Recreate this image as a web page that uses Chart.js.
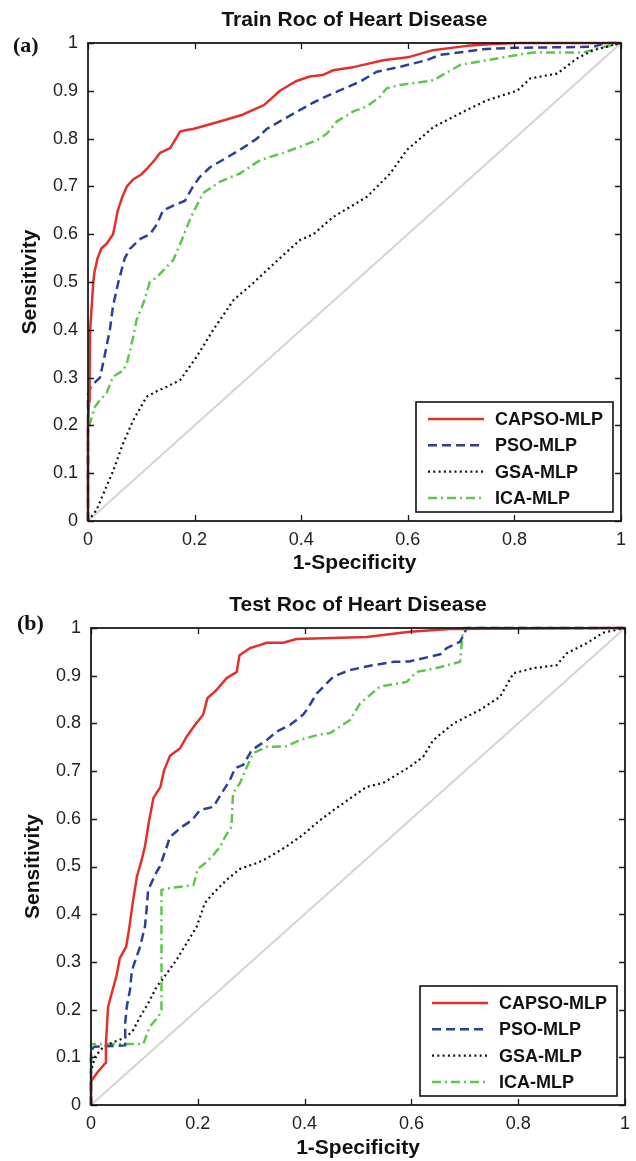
<!DOCTYPE html>
<html><head><meta charset="utf-8">
<script src="https://cdn.jsdelivr.net/npm/chart.js@4/dist/chart.umd.min.js"></script>
<style>
html,body{margin:0;padding:0;background:#fff;width:636px;height:1161px;overflow:hidden;position:relative;}
canvas{position:absolute;}
#c1{left:0;top:0;}
#c2{left:3px;top:585px;}
</style></head><body>
<canvas id="c1" width="636" height="576"></canvas>
<canvas id="c2" width="636" height="576"></canvas>
<script>
// ---------- data ----------
const seriesNames = ['CAPSO-MLP', 'PSO-MLP', 'GSA-MLP', 'ICA-MLP'];
const xTickValues = [0, 0.2, 0.4, 0.6, 0.8, 1];
const xTickLabels = ['0', '0.2', '0.4', '0.6', '0.8', '1'];
const yTickValues = [0, 0.1, 0.2, 0.3, 0.4, 0.5, 0.6, 0.7, 0.8, 0.9, 1];
const yTickLabels = ['0', '0.1', '0.2', '0.3', '0.4', '0.5', '0.6', '0.7', '0.8', '0.9', '1'];
const diagX = [0, 1];
const diagY = [0, 1];

// Train
const capsoTrainX = [0, 0, 0.002, 0.003, 0.004, 0.007, 0.01, 0.012, 0.018, 0.025, 0.035, 0.047, 0.056, 0.065, 0.073, 0.085, 0.1, 0.113, 0.125, 0.135, 0.154, 0.165, 0.173, 0.185, 0.197, 0.229, 0.26, 0.29, 0.31, 0.33, 0.35, 0.36, 0.39, 0.416, 0.44, 0.46, 0.5, 0.554, 0.6, 0.647, 0.711, 0.76, 0.805, 1];
const capsoTrainY = [0, 0.2, 0.25, 0.3, 0.4, 0.45, 0.5, 0.52, 0.55, 0.57, 0.58, 0.6, 0.65, 0.68, 0.7, 0.715, 0.725, 0.74, 0.755, 0.77, 0.78, 0.8, 0.815, 0.818, 0.82, 0.83, 0.84, 0.85, 0.86, 0.87, 0.89, 0.9, 0.92, 0.93, 0.933, 0.943, 0.95, 0.964, 0.97, 0.985, 0.994, 0.998, 1, 1];
const psoTrainX = [0, 0, 0.005, 0.013, 0.0225, 0.032, 0.041, 0.047, 0.057, 0.069, 0.079, 0.098, 0.116, 0.129, 0.141, 0.16, 0.182, 0.197, 0.21, 0.229, 0.26, 0.29, 0.317, 0.335, 0.366, 0.398, 0.422, 0.46, 0.51, 0.542, 0.585, 0.635, 0.66, 0.71, 0.741, 0.8, 0.948, 0.97, 1];
const psoTrainY = [0, 0.266, 0.28, 0.29, 0.3, 0.35, 0.4, 0.45, 0.5, 0.55, 0.57, 0.59, 0.6, 0.62, 0.65, 0.66, 0.67, 0.7, 0.72, 0.74, 0.76, 0.78, 0.8, 0.82, 0.84, 0.86, 0.875, 0.895, 0.919, 0.94, 0.95, 0.964, 0.975, 0.982, 0.987, 0.99, 0.992, 1, 1];
const gsaTrainX = [0, 0.016, 0.03, 0.048, 0.065, 0.085, 0.11, 0.13, 0.148, 0.173, 0.204, 0.235, 0.273, 0.31, 0.336, 0.37, 0.398, 0.423, 0.46, 0.523, 0.567, 0.598, 0.648, 0.711, 0.748, 0.805, 0.83, 0.88, 0.918, 0.948, 1];
const gsaTrainY = [0, 0.023, 0.06, 0.107, 0.16, 0.211, 0.26, 0.272, 0.281, 0.295, 0.344, 0.4, 0.462, 0.498, 0.525, 0.56, 0.588, 0.6, 0.636, 0.678, 0.727, 0.776, 0.824, 0.86, 0.88, 0.9, 0.926, 0.936, 0.968, 0.985, 1];
const icaTrainX = [0, 0, 0.004, 0.013, 0.0225, 0.035, 0.047, 0.066, 0.073, 0.085, 0.091, 0.104, 0.116, 0.129, 0.16, 0.176, 0.191, 0.2, 0.216, 0.248, 0.285, 0.323, 0.366, 0.398, 0.43, 0.448, 0.467, 0.498, 0.523, 0.548, 0.56, 0.585, 0.648, 0.698, 0.748, 0.805, 0.835, 0.929, 0.96, 0.985, 1];
const icaTrainY = [0, 0.184, 0.205, 0.239, 0.253, 0.268, 0.302, 0.315, 0.33, 0.386, 0.42, 0.456, 0.5, 0.51, 0.546, 0.588, 0.63, 0.651, 0.686, 0.71, 0.727, 0.755, 0.77, 0.783, 0.797, 0.81, 0.836, 0.857, 0.867, 0.888, 0.905, 0.912, 0.922, 0.954, 0.964, 0.975, 0.98, 0.98, 0.99, 0.995, 1];

// Test
const capsoTestX = [0, 0, 0.011, 0.027, 0.028, 0.032, 0.048, 0.054, 0.066, 0.072, 0.079, 0.086, 0.095, 0.101, 0.109, 0.117, 0.13, 0.137, 0.148, 0.167, 0.179, 0.195, 0.21, 0.218, 0.235, 0.254, 0.273, 0.278, 0.298, 0.316, 0.329, 0.36, 0.385, 0.516, 0.597, 0.672, 1];
const capsoTestY = [0, 0.049, 0.067, 0.088, 0.13, 0.206, 0.272, 0.308, 0.332, 0.374, 0.43, 0.479, 0.514, 0.542, 0.597, 0.644, 0.667, 0.702, 0.732, 0.748, 0.772, 0.797, 0.818, 0.853, 0.87, 0.895, 0.908, 0.943, 0.958, 0.964, 0.969, 0.969, 0.977, 0.981, 0.992, 0.998, 1];
const psoTestX = [0, 0, 0.006, 0.064, 0.064, 0.067, 0.073, 0.076, 0.079, 0.092, 0.101, 0.104, 0.107, 0.123, 0.129, 0.142, 0.148, 0.17, 0.189, 0.204, 0.229, 0.245, 0.26, 0.27, 0.285, 0.301, 0.329, 0.348, 0.373, 0.397, 0.404, 0.423, 0.454, 0.485, 0.528, 0.566, 0.597, 0.654, 0.666, 0.691, 0.704, 1];
const psoTestY = [0, 0.115, 0.122, 0.125, 0.172, 0.206, 0.241, 0.276, 0.29, 0.332, 0.374, 0.409, 0.451, 0.489, 0.5, 0.542, 0.562, 0.583, 0.597, 0.618, 0.625, 0.654, 0.681, 0.706, 0.713, 0.744, 0.765, 0.783, 0.797, 0.818, 0.828, 0.863, 0.898, 0.912, 0.922, 0.929, 0.93, 0.945, 0.958, 0.971, 1, 1];
const gsaTestX = [0, 0, 0.0075, 0.023, 0.045, 0.067, 0.079, 0.092, 0.107, 0.123, 0.142, 0.16, 0.179, 0.198, 0.213, 0.229, 0.254, 0.279, 0.31, 0.329, 0.366, 0.395, 0.429, 0.454, 0.516, 0.547, 0.597, 0.622, 0.641, 0.679, 0.728, 0.766, 0.791, 0.829, 0.872, 0.891, 0.928, 0.959, 1];
const gsaTestY = [0, 0.07, 0.101, 0.122, 0.133, 0.143, 0.157, 0.185, 0.213, 0.248, 0.276, 0.304, 0.339, 0.374, 0.423, 0.444, 0.472, 0.495, 0.507, 0.517, 0.542, 0.565, 0.597, 0.618, 0.667, 0.675, 0.709, 0.73, 0.765, 0.8, 0.828, 0.856, 0.905, 0.916, 0.922, 0.947, 0.968, 0.99, 1];
const icaTestX = [0, 0, 0.098, 0.11, 0.126, 0.132, 0.132, 0.148, 0.192, 0.2, 0.215, 0.229, 0.242, 0.251, 0.263, 0.266, 0.279, 0.292, 0.304, 0.329, 0.366, 0.391, 0.425, 0.448, 0.485, 0.504, 0.541, 0.591, 0.61, 0.647, 0.691, 0.697, 1];
const icaTestY = [0, 0.128, 0.128, 0.164, 0.185, 0.2, 0.451, 0.455, 0.461, 0.495, 0.508, 0.524, 0.542, 0.562, 0.583, 0.654, 0.675, 0.709, 0.738, 0.751, 0.752, 0.765, 0.776, 0.78, 0.807, 0.842, 0.877, 0.887, 0.908, 0.916, 0.929, 1, 1];

// ---------- styles ----------
const FAMILY = '"Liberation Sans", Arial, Helvetica, sans-serif';
const styles = [
  { color: '#e2302a', width: 2.5, dash: [] },
  { color: '#2b3f9f', width: 2.5, dash: [9, 5] },
  { color: '#111111', width: 2.2, dash: [2, 3.3] },
  { color: '#5cc94a', width: 2.5, dash: [9, 4, 2, 4] }
];

function pts(xs, ys) { return xs.map((x, i) => ({ x: x, y: ys[i] })); }

function makeDatasets(seriesXY) {
  const ds = seriesXY.map((s, i) => ({
    label: seriesNames[i],
    data: pts(s[0], s[1]),
    borderColor: styles[i].color,
    borderWidth: styles[i].width,
    borderDash: styles[i].dash,
    showLine: true, pointRadius: 0, tension: 0, fill: false,
    borderCapStyle: 'butt', borderJoinStyle: 'round',
    clip: 3
  }));
  ds.push({
    label: 'diag', data: pts(diagX, diagY), borderColor: '#d6d6d6', borderWidth: 2.2,
    showLine: true, pointRadius: 0, fill: false, clip: 3, isDiag: true
  });
  return ds;
}

const framePlugin = {
  id: 'frame',
  afterDraw(chart, args, opts) {
    const { ctx, chartArea: a, scales } = chart;
    const x = scales.x, y = scales.y;
    ctx.save();
    // inner ticks
    ctx.strokeStyle = '#1a1a1a';
    ctx.lineWidth = 1.3;
    const L = 6;
    ctx.beginPath();
    xTickValues.forEach(v => {
      const px = Math.round(x.getPixelForValue(v)) + 0.5;
      ctx.moveTo(px, a.bottom); ctx.lineTo(px, a.bottom - L);
      ctx.moveTo(px, a.top); ctx.lineTo(px, a.top + L);
    });
    yTickValues.forEach(v => {
      const py = Math.round(y.getPixelForValue(v)) + 0.5;
      ctx.moveTo(a.left, py); ctx.lineTo(a.left + L, py);
      ctx.moveTo(a.right, py); ctx.lineTo(a.right - L, py);
    });
    ctx.stroke();
    // box
    ctx.lineWidth = 1.8;
    ctx.strokeRect(a.left, a.top, a.right - a.left, a.bottom - a.top);

    // legend
    const bw = 197, bh = 110;
    const bx = a.right - 8 - bw, by = a.bottom - 9 - bh;
    ctx.fillStyle = '#fff';
    ctx.fillRect(bx, by, bw, bh);
    ctx.lineWidth = 1.6;
    ctx.strokeStyle = '#111';
    ctx.strokeRect(bx, by, bw, bh);
    ctx.font = 'bold 18px ' + FAMILY;
    ctx.textBaseline = 'middle';
    ctx.textAlign = 'left';
    chart.data.datasets.forEach((d, i) => {
      if (d.isDiag) return;
      const ry = by + 17 + i * 26.3;
      ctx.beginPath();
      ctx.strokeStyle = d.borderColor;
      ctx.lineWidth = d.borderWidth;
      ctx.setLineDash(d.borderDash || []);
      ctx.moveTo(bx + 12, ry); ctx.lineTo(bx + 68, ry);
      ctx.stroke();
      ctx.setLineDash([]);
      ctx.fillStyle = '#111';
      ctx.fillText(d.label, bx + 79, ry + 1);
    });

    // panel label
    ctx.font = 'bold 22px "Liberation Serif", "Times New Roman", serif';
    ctx.fillStyle = '#111';
    ctx.textBaseline = 'middle';
    ctx.fillText(opts.panel, opts.px, opts.py);
    ctx.restore();
  }
};

function makeChart(id, title, seriesXY, panel, px, py, padRight, xHeight) {
  return new Chart(document.getElementById(id), {
    type: 'scatter',
    data: { datasets: makeDatasets(seriesXY) },
    options: {
      responsive: false, animation: false, devicePixelRatio: 1,
      layout: { padding: { left: 0, top: 0, right: padRight, bottom: 0 } },
      plugins: {
        legend: { display: false },
        tooltip: { enabled: false },
        title: {
          display: true, text: title, color: '#111', fullSize: false,
          font: { family: FAMILY, size: 21, weight: 'bold' },
          padding: { top: 8, bottom: 9.8 }
        },
        frame: { panel: panel, px: px, py: py }
      },
      scales: {
        x: {
          type: 'linear', min: 0, max: 1,
          afterBuildTicks: s => { s.ticks = xTickValues.map(v => ({ value: v })); },
          afterFit: s => { s.height = xHeight; },
          ticks: {
            autoSkip: false, maxRotation: 0, padding: 8, color: '#222',
            font: { family: FAMILY, size: 18 },
            callback: (v) => xTickLabels[xTickValues.indexOf(v)]
          },
          grid: { display: false, drawTicks: false },
          border: { display: false },
          title: {
            display: true, text: '1-Specificity', color: '#111',
            font: { family: FAMILY, size: 21, weight: 'bold' },
            padding: { top: 0, bottom: 0 }
          }
        },
        y: {
          type: 'linear', min: 0, max: 1,
          afterBuildTicks: s => { s.ticks = yTickValues.map(v => ({ value: v })); },
          afterFit: s => { s.width = 88; },
          ticks: {
            autoSkip: false, padding: 10, color: '#222',
            font: { family: FAMILY, size: 18 },
            callback: (v) => yTickLabels[yTickValues.indexOf(v)]
          },
          grid: { display: false, drawTicks: false },
          border: { display: false },
          title: {
            display: true, text: 'Sensitivity', color: '#111',
            font: { family: FAMILY, size: 21, weight: 'bold' },
            padding: { top: 18, bottom: 0 }
          }
        }
      }
    },
    plugins: [framePlugin]
  });
}

makeChart('c1', 'Train Roc of Heart Disease', [
  [capsoTrainX, capsoTrainY], [psoTrainX, psoTrainY], [gsaTrainX, gsaTrainY], [icaTrainX, icaTrainY]
], '(a)', 13, 46, 15, 55);

makeChart('c2', 'Test Roc of Heart Disease', [
  [capsoTestX, capsoTestY], [psoTestX, psoTestY], [gsaTestX, gsaTestY], [icaTestX, icaTestY]
], '(b)', 14, 39, 14, 56);
</script>
</body></html>
